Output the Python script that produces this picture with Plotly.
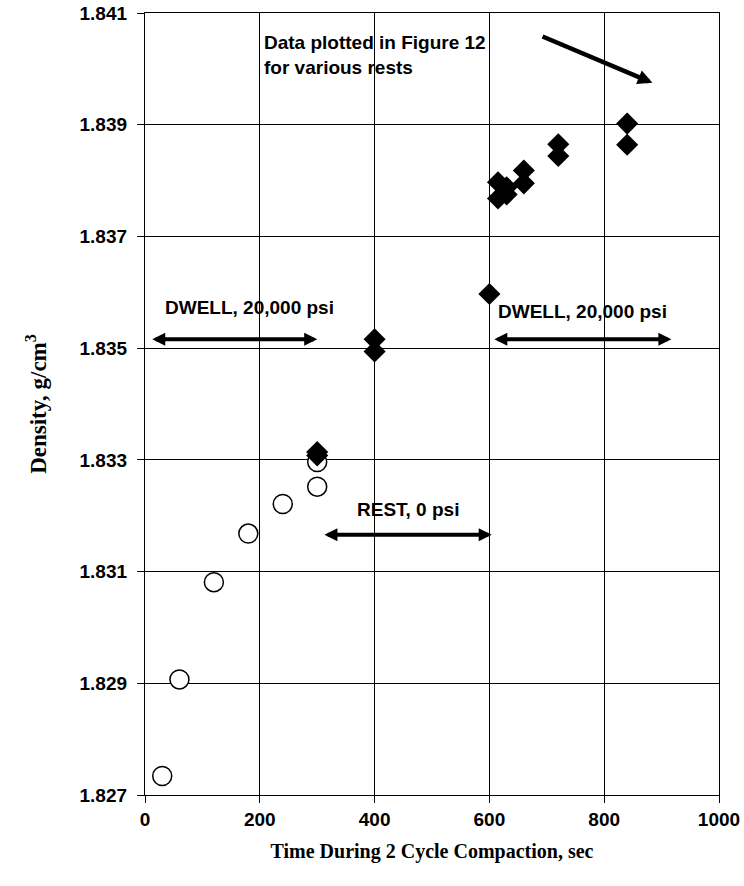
import plotly.graph_objects as go

# Open circles: first compaction cycle
circ_x = [30, 60, 120, 180, 240, 300, 300]
circ_y = [1.82734, 1.82907, 1.83081, 1.83168, 1.83221, 1.83252, 1.83296]

# Filled diamonds
dia_x = [300, 300, 400, 400, 600, 615, 615, 630, 630, 660, 660, 720, 720, 840, 840]
dia_y = [1.83314, 1.83308, 1.83516, 1.83494, 1.83597, 1.83797, 1.83768, 1.83788, 1.83775,
         1.83818, 1.83795, 1.83865, 1.83844, 1.83902, 1.83864]

x_ticks = [0, 200, 400, 600, 800, 1000]
y_ticks = [1.827, 1.829, 1.831, 1.833, 1.835, 1.837, 1.839, 1.841]

SANS = "Liberation Sans, Arial, sans-serif"
SERIF = "Liberation Serif, Times New Roman, serif"

fig = go.Figure()
fig.add_trace(go.Scatter(x=circ_x, y=circ_y, mode="markers",
                         marker=dict(symbol="circle", size=19, color="white",
                                     line=dict(color="black", width=1.5)),
                         showlegend=False))
fig.add_trace(go.Scatter(x=dia_x, y=dia_y, mode="markers",
                         marker=dict(symbol="diamond", size=17, color="black",
                                     line=dict(color="black", width=0)),
                         showlegend=False))

axis_common = dict(showgrid=True, gridcolor="black", gridwidth=1,
                   showline=True, linecolor="black", linewidth=1.3, mirror=True,
                   ticks="outside", ticklen=7, tickcolor="black", tickwidth=1,
                   zeroline=False, automargin=False,
                   tickfont=dict(family=SANS, size=19, color="black", weight="bold"))

fig.update_xaxes(range=[0, 1000], tickvals=x_ticks,
                 title=dict(text="Time During 2 Cycle Compaction, sec",
                            font=dict(family=SERIF, size=20, color="black", weight="bold"),
                            standoff=15),
                 **axis_common)
fig.update_yaxes(range=[1.827, 1.841], tickvals=y_ticks, tickformat=".3f",
                 ticklabelstandoff=6,
                 title=dict(text="Density, g/cm<sup>3</sup>",
                            font=dict(family=SERIF, size=23, color="black", weight="bold"),
                            standoff=26),
                 **axis_common)

# Double-headed arrows and labels
arrows2 = [
    (10, 300, 1.83516),
    (606, 917, 1.83516),
    (310, 604, 1.83166),
]
for x0, x1, yy in arrows2:
    fig.add_annotation(x=x1, y=yy, ax=x0, ay=yy, xref="x", yref="y", axref="x", ayref="y",
                       text="", showarrow=True, arrowhead=2, arrowsize=0.65,
                       startarrowhead=2, startarrowsize=0.65, arrowside="end+start",
                       arrowwidth=4, arrowcolor="black")

fig.add_annotation(x=884, y=1.83975, ax=690, ay=1.84059, xref="x", yref="y",
                   axref="x", ayref="y", text="", showarrow=True, arrowhead=2,
                   arrowsize=0.65, arrowwidth=4.5, arrowcolor="black")

labels = [
    (31, 1.83573, "DWELL, 20,000 psi"),
    (612, 1.83566, "DWELL, 20,000 psi"),
    (366, 1.83211, "REST, 0 psi"),
    (203, 1.84025, "Data plotted in Figure 12<br>for various rests"),
]
for lx, ly, txt in labels:
    fig.add_annotation(x=lx, y=ly, xref="x", yref="y", text=txt, showarrow=False,
                       xanchor="left", yanchor="middle", align="left",
                       font=dict(family=SANS, size=19, color="black", weight="bold"))

fig.update_layout(width=744, height=886,
                  margin=dict(l=145, r=25, t=13, b=91),
                  paper_bgcolor="white", plot_bgcolor="white",
                  showlegend=False)

fig.write_html("out.html")
